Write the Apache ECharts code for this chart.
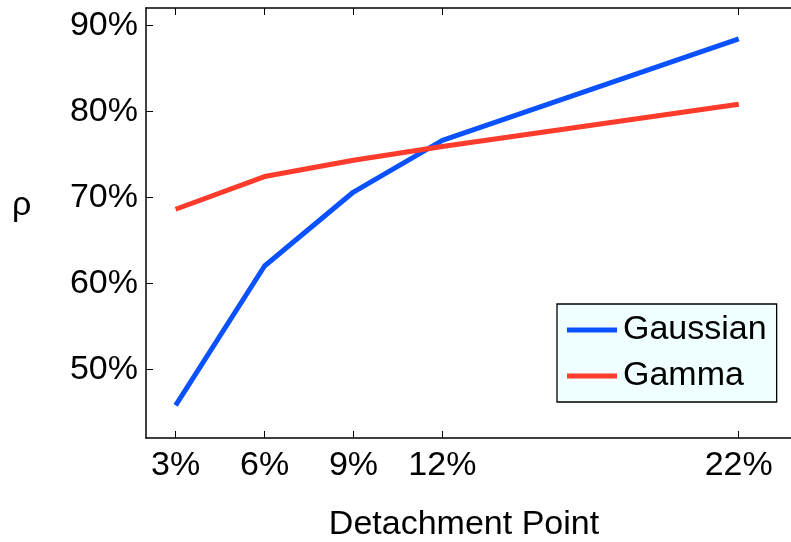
<!DOCTYPE html>
<html>
<head>
<meta charset="utf-8">
<script src="https://cdn.jsdelivr.net/npm/echarts@6/dist/echarts.min.js"></script>
<style>
  html, body { margin: 0; padding: 0; background: #fff; }
  #chart { width: 791px; height: 542px; }
</style>
</head>
<body>
<div id="chart"></div>
<script>
// Detachment points (%) and correlation rho (%) for two loss models
const detachment = [3, 6, 9, 12, 22];
const gaussian = [45.8, 62.0, 70.6, 76.6, 88.4];
const gamma = [68.6, 72.4, 74.3, 75.9, 80.8];
const xTicks = [3, 6, 9, 12, 22];
const yTicks = [50, 60, 70, 80, 90];

const FONT = '"Liberation Sans", Arial, Helvetica, sans-serif';
const FONT_SIZE = 34;
const AXIS_COLOR = '#000';

const pairs = (xs, ys) => xs.map((x, i) => [x, ys[i]]);

const chart = echarts.init(document.getElementById('chart'), null, { renderer: 'canvas' });

function xAxisDef(pos, showLabels) {
  return {
    type: 'value',
    position: pos,
    min: 2, max: 24,
    axisLine: { show: true, onZero: false, lineStyle: { color: AXIS_COLOR, width: 1.5 } },
    axisTick: { show: true, inside: true, length: 7, customValues: xTicks, lineStyle: { color: AXIS_COLOR, width: 1 } },
    axisLabel: {
      show: showLabels, customValues: xTicks, margin: 11,
      formatter: v => v + '%', color: '#000', fontSize: FONT_SIZE, fontFamily: FONT
    },
    splitLine: { show: false },
    name: showLabels ? 'Detachment Point' : '',
    nameLocation: 'middle',
    nameGap: 70,
    // centre the title on the visible part of the frame
    nameTextStyle: { color: '#000', fontSize: FONT_SIZE, fontFamily: FONT, padding: [0, 16, 0, 0] }
  };
}

function yAxisDef(pos, showLabels) {
  return {
    type: 'value',
    position: pos,
    min: 42, max: 92,
    axisLine: { show: true, onZero: false, lineStyle: { color: AXIS_COLOR, width: 1.5 } },
    axisTick: { show: true, inside: true, length: 7, customValues: yTicks, lineStyle: { color: AXIS_COLOR, width: 1 } },
    axisLabel: {
      show: showLabels, customValues: yTicks, margin: 8,
      formatter: v => v + '%', color: '#000', fontSize: FONT_SIZE, fontFamily: FONT
    },
    splitLine: { show: false }
  };
}

chart.setOption({
  animation: false,
  backgroundColor: '#fff',
  // the frame runs a few pixels past the right edge of the canvas
  grid: { left: 146, top: 8, right: -7, bottom: 104, outerBoundsMode: 'none', containLabel: false },
  xAxis: [xAxisDef('bottom', true), xAxisDef('top', false)],
  yAxis: [yAxisDef('left', true), yAxisDef('right', false)],
  legend: {
    orient: 'vertical',
    left: 557, top: 304,
    backgroundColor: '#f0ffff',
    borderColor: '#000',
    borderWidth: 1.3,
    borderRadius: 0,
    padding: [9, 10, 9, 10],
    itemGap: 12,
    itemWidth: 50,
    itemHeight: 5,
    icon: 'rect',
    textStyle: { color: '#000', fontSize: FONT_SIZE, fontFamily: FONT, padding: [0, 0, 0, 1] },
    data: ['Gaussian', 'Gamma']
  },
  graphic: [{
    type: 'text',
    left: 12, top: 189,
    style: { text: 'ρ', font: FONT_SIZE + 'px ' + FONT, fill: '#000' }
  }],
  series: [
    {
      name: 'Gaussian', type: 'line',
      data: pairs(detachment, gaussian),
      showSymbol: false, symbol: 'none',
      lineStyle: { color: '#0a52ff', width: 5 },
      itemStyle: { color: '#0a52ff' }
    },
    {
      name: 'Gamma', type: 'line',
      data: pairs(detachment, gamma),
      showSymbol: false, symbol: 'none',
      lineStyle: { color: '#ff3b2b', width: 5 },
      itemStyle: { color: '#ff3b2b' }
    }
  ]
});
</script>
</body>
</html>
